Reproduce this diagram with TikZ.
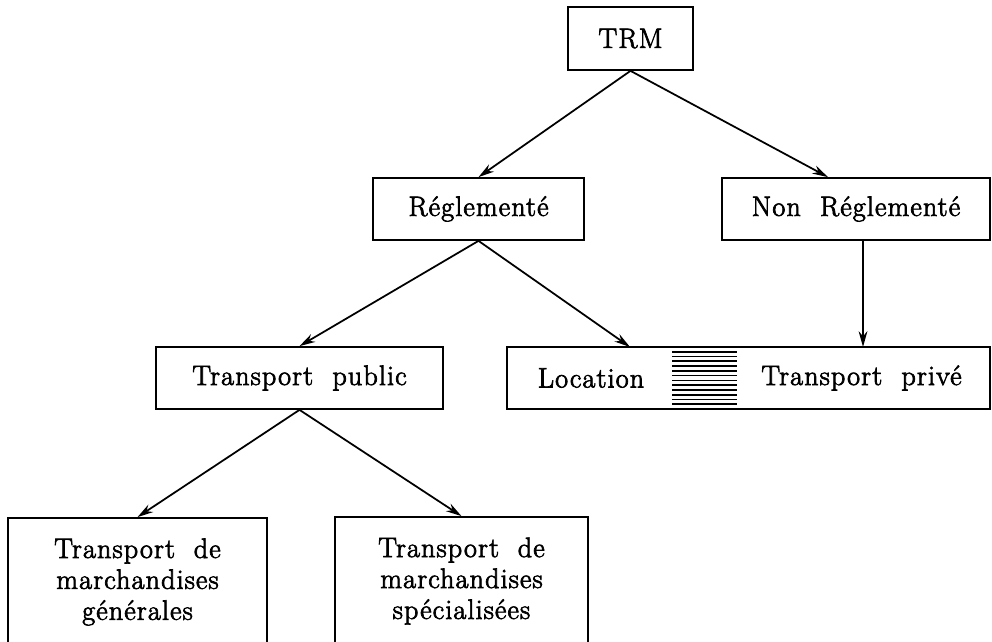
\documentclass[tikz,border=0pt]{standalone}
\usepackage{fontspec}
\newfontfamily\diagfont{Latin Modern Roman}[FakeBold=2.5, LetterSpace=4]
\usepackage{tikz}
\usetikzlibrary{arrows.meta,positioning,calc}

\begin{document}
\begin{tikzpicture}[
  box/.style={rectangle, draw=black, line width=1pt, minimum height=1.24cm,
              font=\diagfont\fontsize{16}{17.6}\selectfont, inner sep=0pt},
  leaf/.style={box, text width=4.9cm, align=center, minimum height=2.56cm},
  txt/.style={font=\diagfont\fontsize{16}{17.6}\selectfont, inner sep=0pt},
  fleche/.style={line width=1pt, -{Stealth[length=9pt,width=5pt]}},
  hachure/.style={line width=1pt}
]
  \useasboundingbox (0,0) rectangle (19.84,12.82);
  \clip (0,0) rectangle (19.84,12.82);

  % TRM
  \node[box, minimum width=2.5cm, minimum height=1.26cm] (trm) at (12.61,12.05) {TRM};

  % niveau 2
  \node[box, minimum width=4.22cm] (regl) at (9.57,8.64) {R\'eglement\'e};
  \node[box, minimum width=5.36cm] (nonregl) at (17.12,8.64) {Non\ \ R\'eglement\'e};

  % niveau 3
  \node[box, minimum width=5.74cm] (pub) at (5.99,5.26) {Transport\ \ public};
  \node[box, minimum width=9.66cm] (lp) at (14.97,5.26) {};
  \node[txt] (loc) at (11.82,5.26) {Location};
  \node[txt] (priv) at (17.23,5.26) {Transport\ \ priv\'e};
  \node[inner sep=0pt, outer sep=0pt, minimum width=1.3cm, minimum height=1.24cm] (hach) at (14.09,5.26) {};
  \foreach \i in {1,...,12}
    \draw[hachure] ($(hach.north west)!\i/13!(hach.south west)$)
                -- ($(hach.north east)!\i/13!(hach.south east)$);
  \coordinate (locin) at (12.6,5.88);
  \coordinate (privin) at (17.26,5.88);

  % niveau 4
  \node[leaf, minimum width=5.18cm] (gen) at (2.75,1.18)
    {Transport\ \ de\\ marchandises\\ g\'en\'erales};
  \node[leaf, minimum width=5.06cm] (spe) at (9.23,1.2)
    {Transport\ \ de\\ marchandises\\ sp\'ecialis\'ees};

  % Relations
  \draw[fleche] (trm.south) -- (regl.north);
  \draw[fleche] (trm.south) -- ([xshift=-0.56cm]nonregl.north);
  \draw[fleche] (regl.south) -- (pub.north);
  \draw[fleche] (regl.south) -- (locin);
  \draw[fleche] (nonregl.south -| privin) -- (privin);
  \draw[fleche] (pub.south) -- (gen.north);
  \draw[fleche] (pub.south) -- (spe.north);
\end{tikzpicture}
\end{document}
